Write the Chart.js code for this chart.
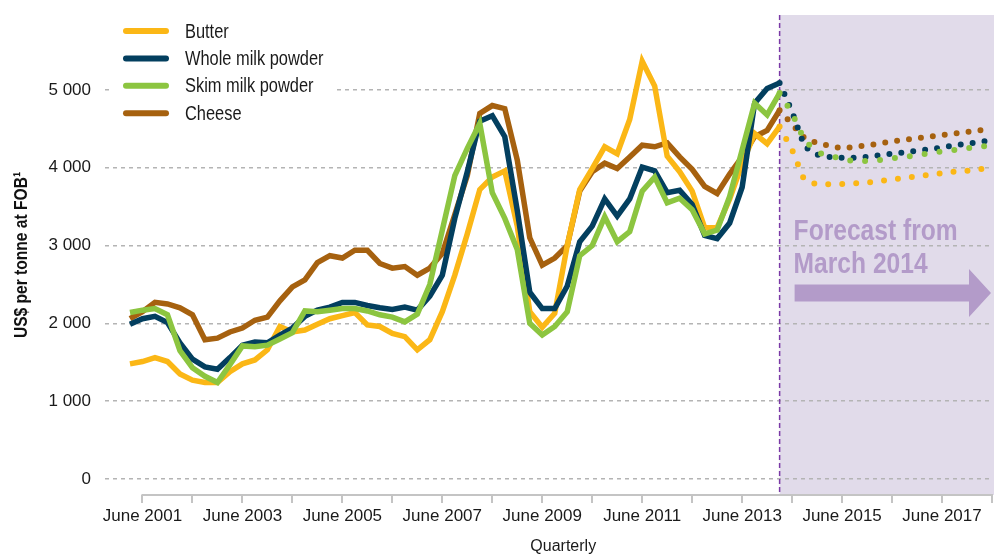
<!DOCTYPE html>
<html><head><meta charset="utf-8">
<script src="https://cdn.jsdelivr.net/npm/chart.js@4.4.1/dist/chart.umd.min.js"></script>
<style>html,body{margin:0;padding:0;background:#fff;}#wrap{width:994px;height:554px;}</style>
</head><body><div id="wrap"><canvas id="c" width="994" height="554"></canvas></div>
<script>
// ---------- categories ----------
const quarterMonths = ['Mar', 'Jun', 'Sep', 'Dec'];
const firstQuarter = 'Sep 2000';
const lastQuarter = 'Jun 2018';
const allQuarters = [];
for (let y = 2000; y <= 2018; y++) for (const m of quarterMonths) allQuarters.push(m + ' ' + y);
const quarters = allQuarters.slice(allQuarters.indexOf(firstQuarter), allQuarters.indexOf(lastQuarter) + 1);
const histStart = 'Mar 2001';
const forecastStart = 'Mar 2014';

// ---------- tick labels ----------
const xTickLabels = ['June 2001', 'June 2003', 'June 2005', 'June 2007', 'June 2009', 'June 2011', 'June 2013', 'June 2015', 'June 2017'];
const yTickValues = [0, 1000, 2000, 3000, 4000, 5000];
const yTickLabels = ['0', '1 000', '2 000', '3 000', '4 000', '5 000'];
const yTitle = 'US$ per tonne at FOB\u00B9';
const xTitle = 'Quarterly';
const forecastText = ['Forecast from', 'March 2014'];
const seriesNames = ['Butter', 'Whole milk powder', 'Skim milk powder', 'Cheese'];

// ---------- historical series, Mar 2001 .. Mar 2014 (quarterly) ----------
const butterHist = [1480, 1510, 1560, 1510, 1350, 1270, 1240, 1240, 1380, 1480, 1530, 1660, 1960, 1890, 1915, 1990,
  2060, 2100, 2140, 1980, 1960, 1870, 1830, 1660, 1790, 2150, 2620, 3150, 3720, 3880, 3960, 3250,
  2150, 1950, 2130, 3000, 3720, 3990, 4270, 4180, 4620, 5370, 5050, 4150, 3950, 3700, 3230, 3230,
  3600, 4050, 4440, 4310, 4530];
const wmpHist = [1990, 2060, 2090, 2010, 1750, 1540, 1440, 1410, 1560, 1720, 1760, 1750, 1850, 1940, 2090, 2170,
  2210, 2270, 2270, 2230, 2200, 2180, 2210, 2170, 2350, 2620, 3350, 3950, 4600, 4670, 4400, 3450,
  2400, 2190, 2190, 2480, 3050, 3250, 3600, 3380, 3600, 4010, 3960, 3680, 3710, 3530, 3130, 3090,
  3290, 3750, 4830, 5020, 5090];
const smpHist = [2140, 2170, 2190, 2110, 1650, 1430, 1320, 1240, 1470, 1710, 1700, 1720, 1800, 1880, 2160, 2150,
  2170, 2190, 2190, 2160, 2110, 2080, 2020, 2120, 2500, 3200, 3900, 4250, 4570, 3680, 3350, 2950,
  2000, 1850, 1960, 2150, 2870, 3000, 3370, 3050, 3180, 3700, 3880, 3550, 3610, 3460, 3150, 3200,
  3630, 4230, 4830, 4680, 4960];
const cheeseHist = [2060, 2150, 2270, 2250, 2200, 2110, 1790, 1810, 1890, 1940, 2040, 2080, 2290, 2470, 2560, 2780,
  2870, 2840, 2940, 2940, 2770, 2710, 2730, 2620, 2710, 2900, 3400, 3900, 4700, 4800, 4760, 4100,
  3100, 2750, 2840, 3000, 3700, 3950, 4060, 3990, 4140, 4290, 4270, 4320, 4140, 3980, 3760, 3670,
  3920, 4140, 4400, 4480, 4740];

// ---------- forecast series, Mar 2014 .. Jun 2018 ----------
const butterFcst = [4530, 4230, 3830, 3790, 3790, 3790, 3800, 3810, 3830, 3850, 3870, 3890, 3910, 3930, 3950, 3960, 3980, 4000];
const wmpFcst = [5090, 4720, 4270, 4170, 4140, 4130, 4130, 4140, 4160, 4180, 4200, 4220, 4240, 4260, 4290, 4310, 4330, 4360];
const smpFcst = [4960, 4700, 4350, 4200, 4150, 4120, 4080, 4090, 4100, 4120, 4140, 4160, 4190, 4210, 4230, 4250, 4270, 4290];
const cheeseFcst = [4740, 4560, 4380, 4320, 4280, 4250, 4270, 4290, 4310, 4340, 4360, 4380, 4400, 4420, 4440, 4460, 4480, 4500];

// ---------- styles ----------
const colors = ['#fbb716', '#033f5f', '#8cc540', '#a6610f'];
const dotGaps = [14, 12, 15, 12];
const drawOrder = [2, 1, 0, 3];
const SHADE = '#e1dbea';
const PURPLE_TXT = '#b39bc9';

function hasFont(name) {
  const c = document.createElement('canvas').getContext('2d');
  const t = 'Whole milk powder 2001';
  c.font = '20px monospace'; const a = c.measureText(t).width;
  c.font = '20px "' + name + '", monospace'; const b = c.measureText(t).width;
  return Math.abs(a - b) > 0.5;
}
const NARROW = hasFont('Liberation Sans Narrow');
const FAM = NARROW ? '"Liberation Sans Narrow", "Liberation Sans", sans-serif' : '"Liberation Sans", Arial, sans-serif';
const TXT = NARROW ? 20 : 17;
const XSCALE_TXT = NARROW ? 1 : 0.82;

function pad(values, startLabel) {
  const out = new Array(quarters.length).fill(null);
  const s = quarters.indexOf(startLabel);
  values.forEach((v, i) => { out[s + i] = v; });
  return out;
}

const hist = [butterHist, wmpHist, smpHist, cheeseHist];
const fcst = [butterFcst, wmpFcst, smpFcst, cheeseFcst];
const datasets = [];
seriesNames.forEach((name, i) => {
  datasets.push({
    label: name, data: pad(hist[i], histStart), borderColor: colors[i], borderWidth: 5.5,
    pointRadius: 0, tension: 0, spanGaps: false, order: drawOrder[i], borderJoinStyle: 'miter'
  });
});
seriesNames.forEach((name, i) => {
  datasets.push({
    label: name + ' forecast', data: pad(fcst[i], forecastStart), borderColor: colors[i], borderWidth: 6,
    borderDash: [0, dotGaps[i]], borderCapStyle: 'round', pointRadius: 0, tension: 0, order: drawOrder[i]
  });
});

// narrow-style text (size given for a narrow face; emulated by horizontal scaling when absent)
function ntxt(ctx, s, x, y, size, weight, align, rot) {
  ctx.save();
  ctx.font = (weight || '') + ' ' + size + 'px ' + FAM;
  ctx.textAlign = align || 'left';
  ctx.translate(x, y);
  if (rot) ctx.rotate(rot);
  ctx.scale(XSCALE_TXT, 1);
  ctx.fillText(s, 0, 0);
  ctx.restore();
}

const decor = {
  id: 'decor',
  beforeDraw(chart) {
    const { ctx, chartArea: a, scales: { x } } = chart;
    const fx = x.getPixelForValue(quarters.indexOf(forecastStart));
    ctx.save();
    ctx.fillStyle = SHADE;
    ctx.fillRect(fx, a.top, chart.width - fx, a.bottom - a.top);
    ctx.restore();
  },
  beforeDatasetsDraw(chart) {
    const { ctx, chartArea: a, scales: { x } } = chart;
    const fx = x.getPixelForValue(quarters.indexOf(forecastStart));
    // forecast divider
    ctx.save();
    ctx.strokeStyle = '#7a3aa6'; ctx.lineWidth = 1.5; ctx.setLineDash([5, 3]);
    ctx.beginPath(); ctx.moveTo(fx, a.top); ctx.lineTo(fx, a.bottom); ctx.stroke();
    ctx.restore();
    // forecast text
    ctx.save();
    ctx.fillStyle = PURPLE_TXT; ctx.textBaseline = 'alphabetic';
    ntxt(ctx, forecastText[0], fx + 14, a.top + 225, 30, 'bold');
    ntxt(ctx, forecastText[1], fx + 14, a.top + 258, 30, 'bold');
    // arrow
    const ay = a.top + 278, sx = fx + 15, hx = a.right - 23, tip = a.right - 1;
    ctx.beginPath();
    ctx.moveTo(sx, ay - 8.5); ctx.lineTo(hx, ay - 8.5); ctx.lineTo(hx, ay - 24);
    ctx.lineTo(tip, ay); ctx.lineTo(hx, ay + 24); ctx.lineTo(hx, ay + 8.5); ctx.lineTo(sx, ay + 8.5);
    ctx.closePath(); ctx.fill();
    ctx.restore();
    // x axis line from first labelled tick
    const x0 = x.getPixelForValue(quarters.indexOf('Jun 2001'));
    ctx.save();
    ctx.strokeStyle = '#c4c4c4'; ctx.lineWidth = 2;
    ctx.beginPath(); ctx.moveTo(x0 - 1, a.bottom); ctx.lineTo(a.right + 1, a.bottom); ctx.stroke();
    ctx.fillStyle = '#1a1a1a'; ctx.textBaseline = 'alphabetic';
    ctx.font = (NARROW ? 19 : 16) + 'px ' + FAM; ctx.textAlign = 'center';
    ctx.fillText(xTitle, (x0 + a.right) / 2 - 4, a.bottom + 56);
    // y axis title
    ctx.fillStyle = '#111'; ctx.textBaseline = 'middle';
    ntxt(ctx, yTitle, 22, (a.top + a.bottom) / 2, 19, 'bold', 'center', -Math.PI / 2);
    ctx.restore();
  },
  afterDatasetsDraw(chart) {
    const { ctx, chartArea: a } = chart;
    ctx.save();
    ctx.fillStyle = '#ffffff';
    ctx.fillRect(a.left + 6, a.top + 3, 222, 108);
    seriesNames.forEach((name, i) => {
      const y = a.top + 16 + i * 27.4;
      ctx.strokeStyle = colors[i]; ctx.lineWidth = 6; ctx.lineCap = 'round';
      ctx.beginPath(); ctx.moveTo(a.left + 21, y); ctx.lineTo(a.left + 61, y); ctx.stroke();
      ctx.fillStyle = '#1a1a1a'; ctx.textBaseline = 'middle';
      ntxt(ctx, name, a.left + 80, y + 1, 20, '', 'left');
    });
    ctx.restore();
  }
};

new Chart(document.getElementById('c'), {
  type: 'line',
  data: { labels: quarters, datasets },
  plugins: [decor],
  options: {
    responsive: false, animation: false, devicePixelRatio: 1,
    layout: { padding: { top: 15, right: 2, left: 0, bottom: 0 } },
    plugins: { legend: { display: false }, tooltip: { enabled: false } },
    scales: {
      x: {
        type: 'category', offset: false,
        grid: { drawOnChartArea: false, drawTicks: true, tickLength: 8, color: '#c4c4c4', tickColor: '#c4c4c4', lineWidth: 2, tickWidth: 2 },
        border: { display: false },
        afterBuildTicks(s) { s.ticks = s.ticks.filter(t => quarters[t.value].startsWith('Jun')); },
        ticks: {
          autoSkip: false, maxRotation: 0, minRotation: 0, padding: 3, color: '#1a1a1a',
          font: { family: FAM, size: TXT },
          callback(v) { const l = 'June ' + quarters[v].slice(4); return xTickLabels.includes(l) ? l : ''; }
        },
        afterFit(s) { s.height = 59; s.paddingLeft = 0; s.paddingRight = 0; }
      },
      y: {
        min: -206, max: 5964,
        afterBuildTicks(s) { s.ticks = yTickValues.map(v => ({ value: v })); },
        grid: { color: '#b4b4b4', lineWidth: 1.5, drawTicks: false, borderDash: [4, 4] },
        border: { display: false, dash: [4, 4] },
        ticks: {
          padding: 14, color: '#1a1a1a', font: { family: FAM, size: TXT },
          callback(v) { const i = yTickValues.indexOf(v); return i >= 0 ? yTickLabels[i] : ''; }
        },
        afterFit(s) { s.width = 105; s.paddingTop = 0; s.paddingBottom = 0; }
      }
    }
  }
});
</script></body></html>
